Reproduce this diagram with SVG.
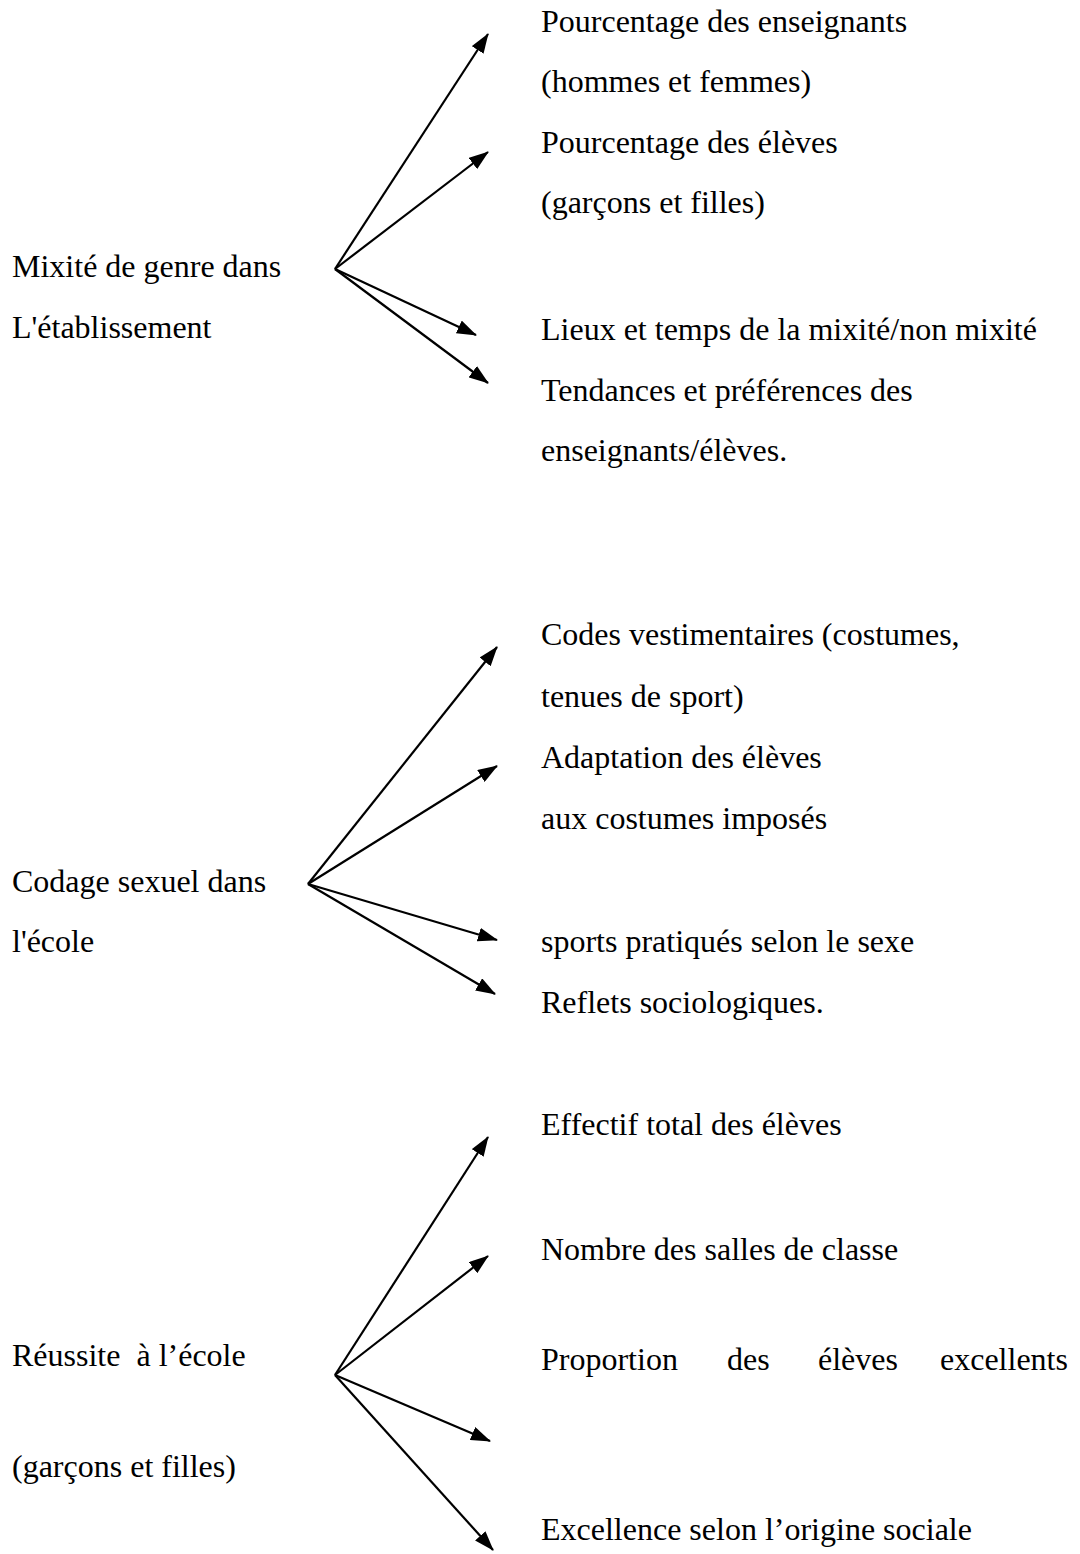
<svg xmlns="http://www.w3.org/2000/svg" width="1080" height="1554" viewBox="0 0 1080 1554">
<style>
text{font-family:"Liberation Serif","Times New Roman",serif;font-size:32px;fill:#000}
.c line{stroke:#000;stroke-width:2.2;marker-end:url(#ah)}
</style>
<defs>
<marker id="ah" markerUnits="userSpaceOnUse" markerWidth="20" markerHeight="14" refX="19" refY="7" orient="auto" viewBox="0 0 20 14">
<path d="M0,0 L20,7 L0,14 z" fill="#000"/>
</marker>
</defs>
<rect width="1080" height="1554" fill="#fff"/>
<g id="n1">
<text x="12" y="277">Mixité de genre dans</text>
<text x="12" y="338">L'établissement</text>
</g>
<g id="n1a">
<text x="541" y="32">Pourcentage des enseignants</text>
<text x="541" y="92">(hommes et femmes)</text>
</g>
<g id="n1b">
<text x="541" y="153">Pourcentage des élèves</text>
<text x="541" y="213">(garçons et filles)</text>
</g>
<g id="n1c"><text x="541" y="340">Lieux et temps de la mixité/non mixité</text></g>
<g id="n1d">
<text x="541" y="401">Tendances et préférences des</text>
<text x="541" y="461">enseignants/élèves.</text>
</g>
<g id="n2">
<text x="12" y="892">Codage sexuel dans</text>
<text x="12" y="952">l'école</text>
</g>
<g id="n2a">
<text x="541" y="645">Codes vestimentaires (costumes,</text>
<text x="541" y="707">tenues de sport)</text>
</g>
<g id="n2b">
<text x="541" y="768">Adaptation des élèves</text>
<text x="541" y="829">aux costumes imposés</text>
</g>
<g id="n2c"><text x="541" y="952">sports pratiqués selon le sexe</text></g>
<g id="n2d"><text x="541" y="1013">Reflets sociologiques.</text></g>
<g id="n3">
<text x="12" y="1366" xml:space="preserve">Réussite  à l’école</text>
<text x="12" y="1477">(garçons et filles)</text>
</g>
<g id="n3a"><text x="541" y="1135">Effectif total des élèves</text></g>
<g id="n3b"><text x="541" y="1260">Nombre des salles de classe</text></g>
<g id="n3c"><text y="1370"><tspan x="541">Proportion</tspan><tspan x="727">des</tspan><tspan x="818">élèves</tspan><tspan x="940">excellents</tspan></text></g>
<g id="n3d"><text x="541" y="1540">Excellence selon l’origine sociale</text></g>
<g id="connectors" class="c">
<line x1="335" y1="269" x2="488" y2="34"/>
<line x1="335" y1="269" x2="488" y2="152"/>
<line x1="335" y1="269" x2="476" y2="335"/>
<line x1="335" y1="269" x2="488" y2="383"/>
<line x1="308" y1="884" x2="497" y2="647"/>
<line x1="308" y1="884" x2="497" y2="766"/>
<line x1="308" y1="884" x2="497" y2="940"/>
<line x1="308" y1="884" x2="495" y2="994"/>
<line x1="335" y1="1375" x2="488" y2="1137"/>
<line x1="335" y1="1375" x2="488" y2="1256"/>
<line x1="335" y1="1375" x2="490" y2="1441"/>
<line x1="335" y1="1375" x2="493" y2="1550"/>
</g>
</svg>
